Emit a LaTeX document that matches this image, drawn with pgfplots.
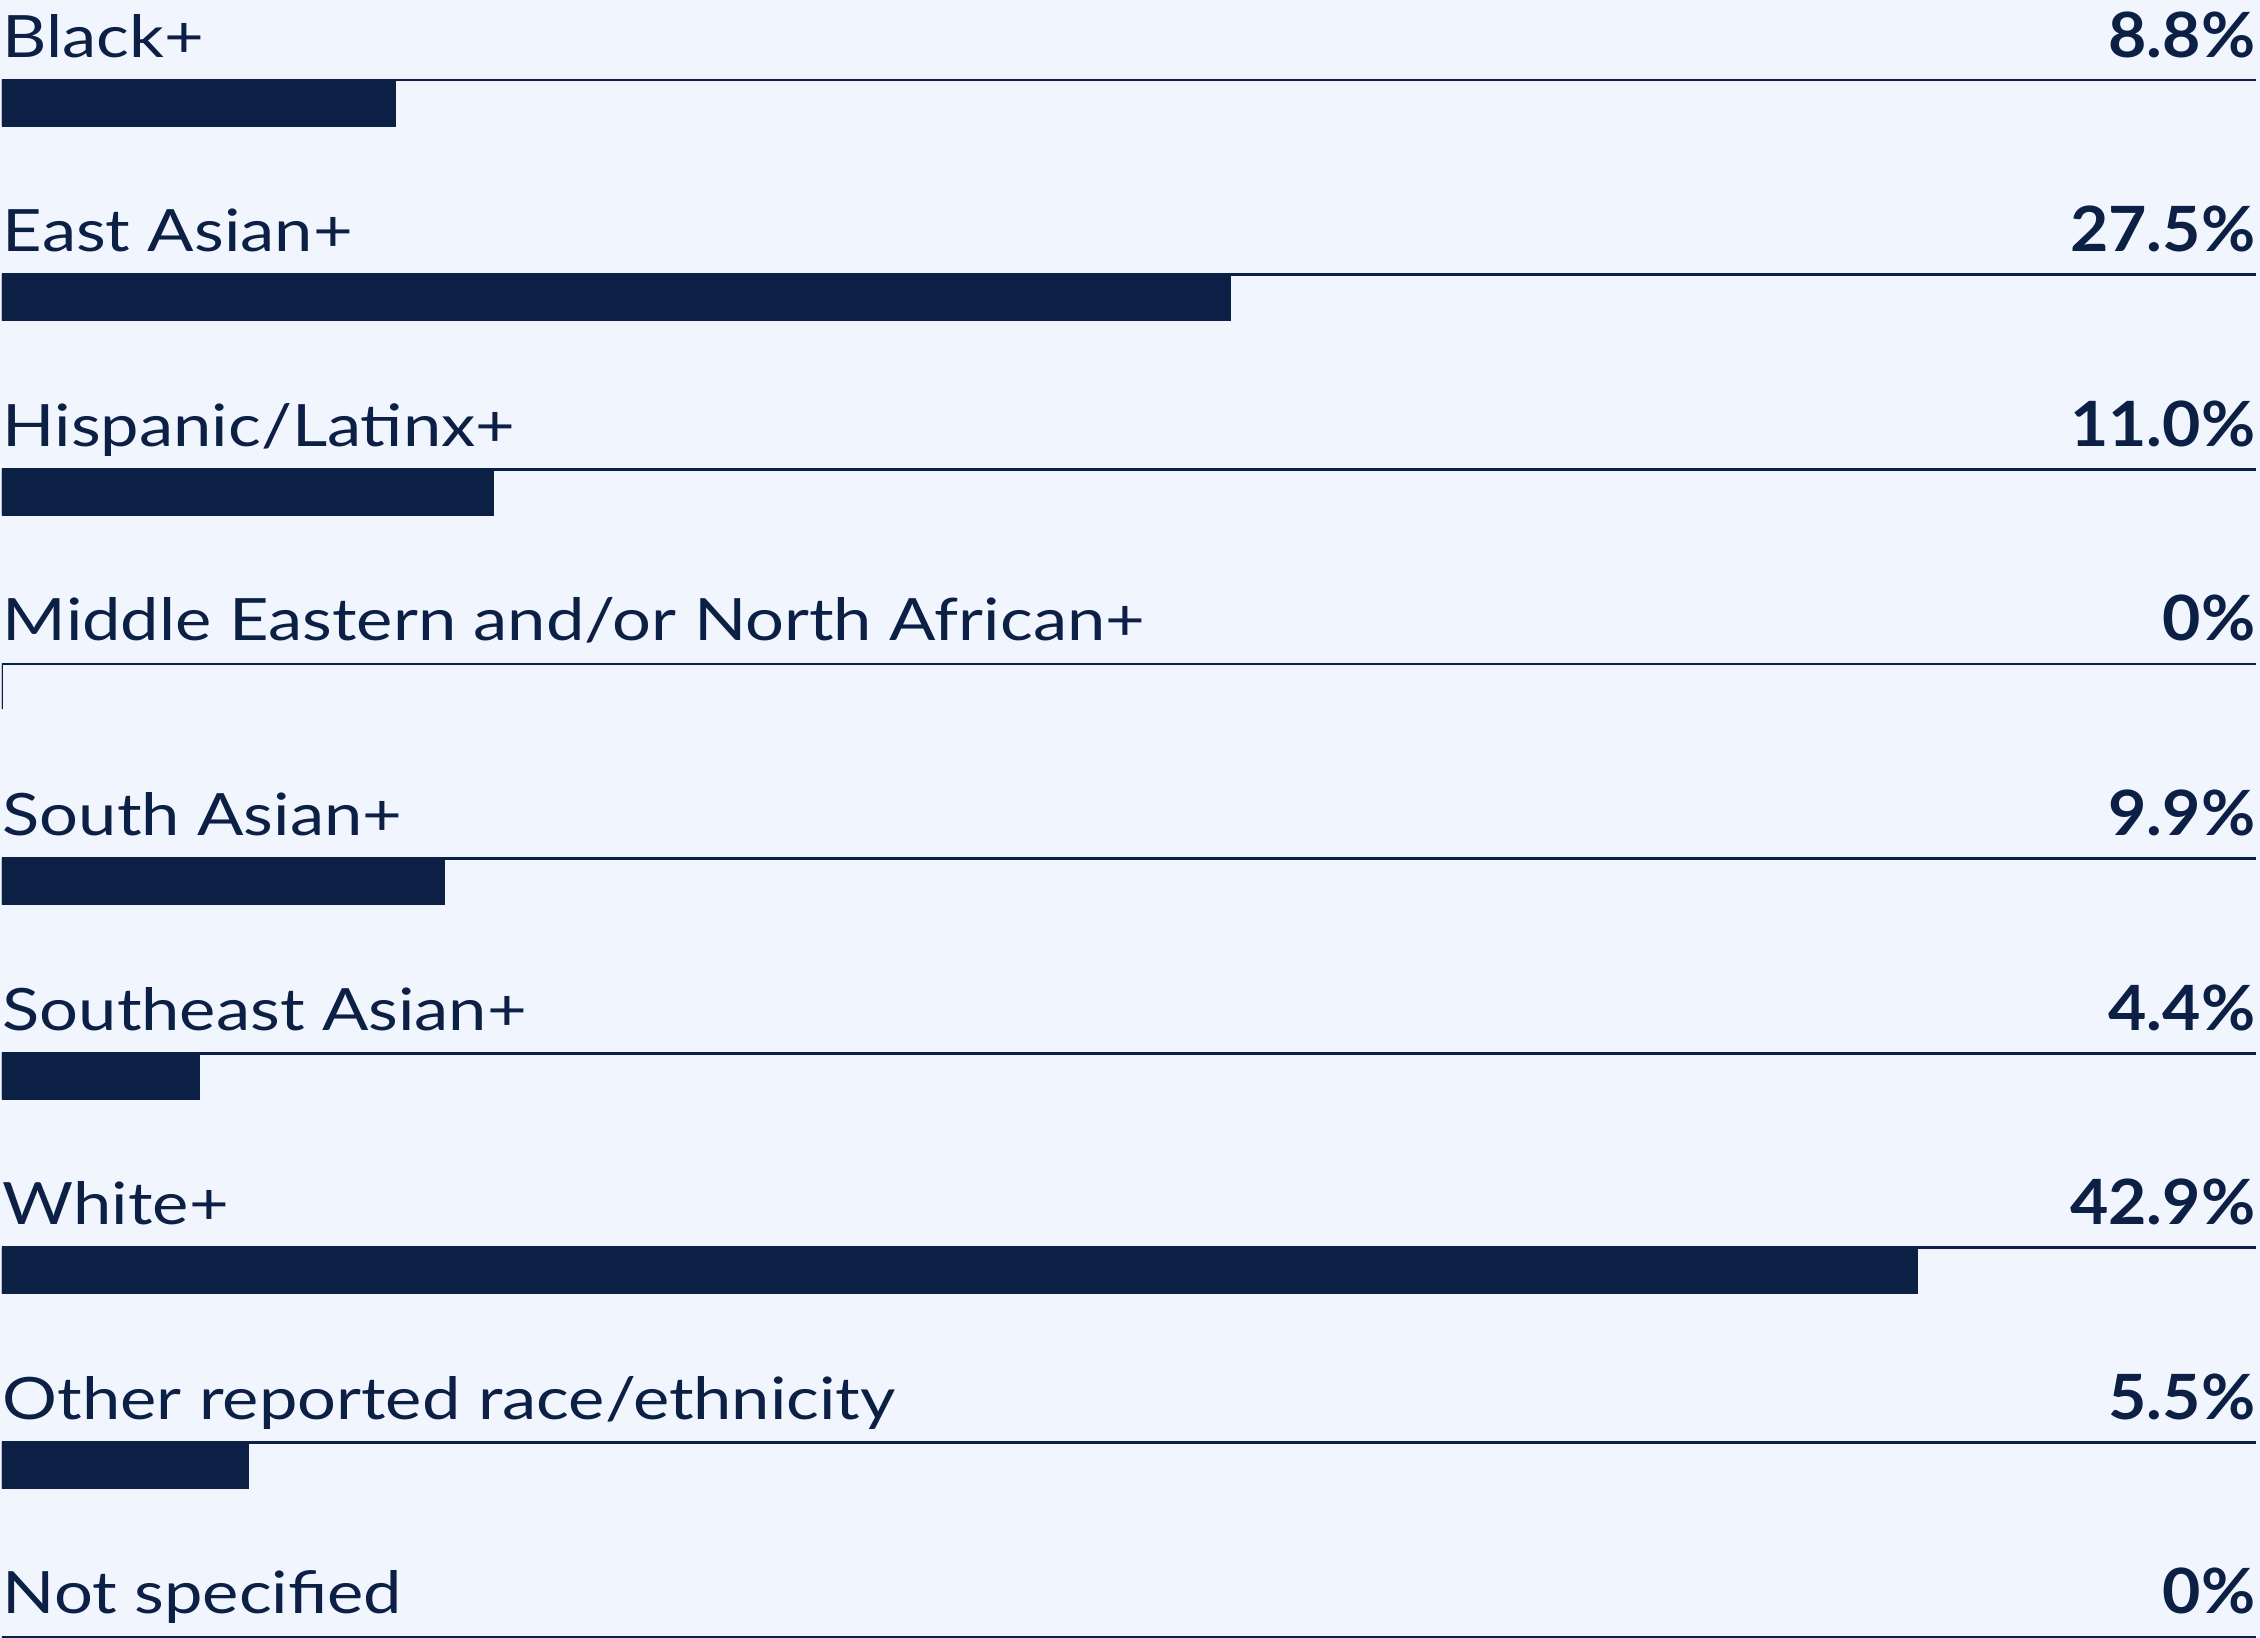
\documentclass[border=0pt]{standalone}
\usepackage{pgfplots}
\pgfplotsset{compat=1.18}
\usepackage{pgfplotstable}
\usepackage{fontspec}
\setmainfont{Lato}
\newfontfamily\labfont[FakeStretch=1.175]{Lato}
\newfontfamily\valfont[FakeStretch=1.06]{Lato Bold}
\definecolor{bg}{RGB}{241,245,253}
\definecolor{navy}{RGB}{12,31,69}
\pgfplotstableread[col sep=comma]{
idx,val,lab,txt
0,8.8,Black+,8.8\%
1,27.5,East Asian+,27.5\%
2,11.0,Hispanic/Latinx+,11.0\%
3,0,Middle Eastern and/or North African+,0\%
4,9.9,South Asian+,9.9\%
5,4.4,Southeast Asian+,4.4\%
6,42.9,White+,42.9\%
7,5.5,Other reported race/ethnicity,5.5\%
8,0,Not specified,0\%
}\data
\begin{document}
\begin{tikzpicture}
\fill[bg] (0,0) rectangle (565pt,-409.5pt);
\begin{axis}[
  at={(0.5pt,0pt)}, anchor=north west,
  scale only axis, width=563.5pt, height=409.5pt,
  xmin=0, xmax=50.5, ymin=-0.527, ymax=7.89, y dir=reverse,
  axis line style={draw=none}, tick style={draw=none},
  xtick=\empty,
  ytick={-0.1156,0.8844,1.8844,2.8844,3.8844,4.8844,5.8844,6.8844,7.8844},
  yticklabels={},
  ymajorgrids, major grid style={navy, line width=0.7pt},
]
\addplot[xbar, bar width=0.233, fill=navy, draw=navy, line width=0.7pt]
  table[x=val, y=idx]{\data};
\addplot[draw=none, mark=none, nodes near coords, point meta=explicit symbolic,
  every node near coord/.append style={anchor=base west, inner sep=0pt, text=navy,
    font=\labfont\fontsize{14.6}{17}\selectfont}]
  table[x expr=0, y expr=\thisrow{idx}-0.234, meta=lab]{\data};
\addplot[draw=none, mark=none, nodes near coords, point meta=explicit symbolic,
  every node near coord/.append style={anchor=base east, inner sep=0pt, text=navy,
    font=\valfont\fontsize{15.6}{18}\selectfont}]
  table[x expr=50.5, y expr=\thisrow{idx}-0.234, meta=txt]{\data};
\end{axis}
\pgfresetboundingbox
\path[use as bounding box] (0,0) rectangle (565pt,-409.5pt);
\end{tikzpicture}
\end{document}
